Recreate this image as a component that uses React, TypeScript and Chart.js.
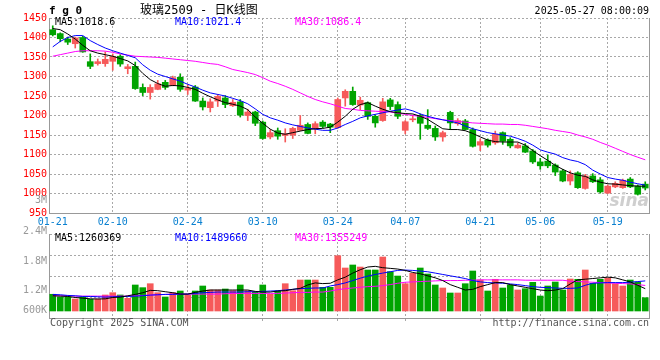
import React, { useEffect, useRef } from 'react';
import { Chart, registerables } from 'chart.js';

Chart.register(...registerables);

// ---------------- data ----------------
const DATES = [
  '01-21', '01-22', '01-23', '01-24', '01-27',
  '02-05', '02-06', '02-07', '02-10', '02-11', '02-12', '02-13', '02-14',
  '02-17', '02-18', '02-19', '02-20', '02-21', '02-24', '02-25', '02-26', '02-27', '02-28',
  '03-03', '03-04', '03-05', '03-06', '03-07', '03-10', '03-11', '03-12', '03-13', '03-14',
  '03-17', '03-18', '03-19', '03-20', '03-21', '03-24', '03-25', '03-26', '03-27', '03-28', '03-31',
  '04-01', '04-02', '04-03', '04-07', '04-08', '04-09', '04-10', '04-11',
  '04-14', '04-15', '04-16', '04-17', '04-18', '04-21', '04-22', '04-23', '04-24', '04-25',
  '04-28', '04-29', '04-30',
  '05-06', '05-07', '05-08', '05-09', '05-12', '05-13', '05-14', '05-15', '05-16',
  '05-19', '05-20', '05-21', '05-22', '05-23', '05-26',
];

const X_TICK_LABELS = ['01-21', '02-10', '02-24', '03-10', '03-24', '04-07', '04-21', '05-06', '05-19'];

const OPEN = [
  1420, 1410, 1396, 1384, 1400, 1338, 1333, 1333, 1339, 1352,
  1320, 1326, 1272, 1259, 1267, 1285, 1277, 1298, 1265, 1273,
  1237, 1220, 1237, 1245, 1225, 1235, 1200, 1209, 1183, 1145,
  1161, 1149, 1150, 1162, 1177, 1166, 1183, 1178, 1169, 1245,
  1262, 1227, 1233, 1198, 1187, 1240, 1228, 1162, 1189, 1200,
  1175, 1167, 1145, 1208, 1179, 1186, 1164, 1124, 1137, 1130,
  1156, 1139, 1117, 1122, 1109, 1081, 1083, 1073, 1058, 1032,
  1053, 1013, 1045, 1035, 1001, 1017, 1015, 1037, 1019, 1024,
];
const HIGH = [
  1430, 1412, 1401, 1401, 1403, 1358, 1345, 1363, 1358, 1356,
  1331, 1337, 1281, 1279, 1290, 1290, 1301, 1307, 1279, 1277,
  1245, 1243, 1254, 1251, 1241, 1241, 1216, 1211, 1186, 1164,
  1168, 1166, 1170, 1200, 1181, 1184, 1187, 1180, 1245, 1266,
  1273, 1247, 1235, 1202, 1244, 1244, 1235, 1187, 1201, 1204,
  1215, 1173, 1160, 1211, 1192, 1190, 1168, 1140, 1140, 1160,
  1158, 1143, 1130, 1128, 1113, 1090, 1099, 1076, 1062, 1058,
  1056, 1049, 1051, 1041, 1022, 1030, 1037, 1041, 1022, 1030,
];
const LOW = [
  1404, 1389, 1382, 1373, 1362, 1320, 1329, 1326, 1316, 1326,
  1307, 1267, 1251, 1242, 1266, 1267, 1276, 1262, 1254, 1236,
  1214, 1209, 1223, 1220, 1223, 1196, 1187, 1174, 1139, 1140,
  1139, 1132, 1141, 1161, 1153, 1153, 1168, 1156, 1167, 1224,
  1226, 1215, 1190, 1170, 1185, 1215, 1192, 1153, 1184, 1139,
  1164, 1136, 1134, 1164, 1175, 1163, 1119, 1110, 1119, 1126,
  1126, 1117, 1116, 1105, 1077, 1062, 1066, 1046, 1030, 1022,
  1013, 1011, 1028, 1001, 1000, 1015, 1013, 1015, 996, 1009,
];
const CLOSE = [
  1407, 1397, 1388, 1399, 1363, 1326, 1338, 1344, 1351, 1332,
  1325, 1269, 1259, 1272, 1281, 1272, 1297, 1267, 1270, 1237,
  1222, 1235, 1249, 1228, 1234, 1201, 1209, 1180, 1141, 1156,
  1147, 1153, 1167, 1175, 1154, 1179, 1172, 1170, 1241, 1262,
  1228, 1239, 1198, 1181, 1235, 1223, 1198, 1184, 1191, 1180,
  1167, 1145, 1156, 1181, 1187, 1164, 1121, 1133, 1124, 1152,
  1134, 1122, 1124, 1106, 1081, 1071, 1071, 1055, 1032, 1049,
  1015, 1045, 1030, 1004, 1019, 1026, 1034, 1017, 998, 1014,
];

const MA5 = [
  1423, 1420, 1409, 1396, 1380, 1366, 1360, 1356, 1352, 1346,
  1340, 1328, 1308, 1292, 1282, 1275, 1277, 1276, 1272, 1267,
  1257, 1248, 1240, 1233, 1229, 1224, 1215, 1196, 1180, 1165,
  1155, 1152, 1156, 1160, 1164, 1166, 1167, 1170, 1183, 1198,
  1216, 1228, 1233, 1224, 1216, 1210, 1207, 1205, 1204, 1198,
  1190, 1178, 1166, 1164, 1164, 1161, 1154, 1145, 1137, 1133,
  1132, 1132, 1132, 1124, 1110, 1097, 1085, 1072, 1062, 1053,
  1047, 1044, 1035, 1029, 1025, 1024, 1022, 1020, 1019, 1018.6,
];
const MA10 = [
  1376, 1390, 1400, 1405, 1405, 1392, 1382, 1373, 1366, 1360,
  1354, 1348, 1330, 1316, 1306, 1300, 1294, 1288, 1280, 1273,
  1265, 1258, 1254, 1250, 1244, 1238, 1230, 1217, 1203, 1194,
  1188, 1181, 1176, 1172, 1168, 1165, 1162, 1162, 1168, 1177,
  1185, 1194, 1199, 1203, 1207, 1211, 1214, 1217, 1212, 1204,
  1198, 1193, 1189, 1185, 1181, 1173, 1166, 1161, 1156, 1153,
  1150, 1147, 1141, 1134, 1124, 1112, 1106, 1101, 1092, 1086,
  1082, 1074, 1060, 1050, 1041, 1037, 1034, 1029, 1025, 1021.4,
];
const MA30 = [
  1352, 1356, 1360, 1364, 1366, 1366, 1366, 1365, 1362, 1358,
  1355, 1352, 1351, 1350, 1349, 1347, 1345, 1343, 1341, 1339,
  1336, 1333, 1331, 1325, 1318, 1314, 1310, 1305, 1297, 1288,
  1282, 1275, 1267, 1258, 1249, 1241, 1235, 1230, 1224, 1218,
  1216, 1213, 1212, 1211, 1210, 1209, 1206, 1203, 1200, 1198,
  1195, 1192, 1189, 1187, 1185, 1183, 1181, 1180, 1179, 1178,
  1178, 1177, 1177, 1175, 1172, 1169, 1166, 1162, 1159, 1156,
  1150, 1145, 1139, 1131, 1124, 1116, 1108, 1100, 1093, 1086.4,
];

const VOLUME = [
  1094000, 1014000, 1020000, 955000, 1014000, 946000, 955000, 1073000, 1141000, 1073000,
  975000, 1369000, 1290000, 1407000, 1141000, 1014000, 1141000, 1191000, 1073000, 1191000,
  1339000, 1221000, 1221000, 1250000, 1200000, 1369000, 1200000, 1160000, 1369000, 1094000,
  1191000, 1407000, 1200000, 1516000, 1516000, 1516000, 1300000, 1300000, 2234000, 1871000,
  1960000, 1900000, 1812000, 1812000, 2196000, 1762000, 1634000, 1407000, 1714000, 1871000,
  1694000, 1369000, 1280000, 1132000, 1132000, 1407000, 1782000, 1516000, 1191000, 1537000,
  1280000, 1369000, 1221000, 1260000, 1448000, 1043000, 1339000, 1457000, 1221000, 1546000,
  1537000, 1812000, 1418000, 1537000, 1575000, 1407000, 1339000, 1516000, 1457000, 993000,
];
const VOL_MA5 = [
  1050000, 1040000, 1030000, 1000000, 980000, 960000, 955000, 960000, 1000000, 1010000,
  1050000, 1090000, 1140000, 1210000, 1200000, 1170000, 1140000, 1100000, 1100000, 1150000,
  1190000, 1220000, 1220000, 1220000, 1220000, 1220000, 1220000, 1180000, 1160000, 1160000,
  1190000, 1200000, 1240000, 1270000, 1370000, 1430000, 1410000, 1420000, 1520000, 1600000,
  1720000, 1820000, 1900000, 1920000, 1880000, 1860000, 1840000, 1800000, 1740000, 1700000,
  1640000, 1580000, 1500000, 1380000, 1300000, 1220000, 1240000, 1320000, 1380000, 1440000,
  1440000, 1380000, 1340000, 1300000, 1260000, 1220000, 1200000, 1220000, 1260000, 1400000,
  1520000, 1540000, 1560000, 1580000, 1600000, 1580000, 1520000, 1460000, 1360000, 1260369,
];
const VOL_MA10 = [
  1090000, 1080000, 1060000, 1050000, 1030000, 1030000, 1020000, 1010000, 1020000, 1030000,
  1030000, 1040000, 1050000, 1070000, 1080000, 1090000, 1090000, 1100000, 1100000, 1120000,
  1140000, 1150000, 1160000, 1160000, 1160000, 1160000, 1170000, 1170000, 1180000, 1190000,
  1200000, 1220000, 1240000, 1260000, 1270000, 1280000, 1280000, 1340000, 1380000, 1430000,
  1500000, 1570000, 1630000, 1680000, 1720000, 1760000, 1800000, 1810000, 1800000, 1780000,
  1760000, 1720000, 1680000, 1640000, 1600000, 1560000, 1500000, 1460000, 1440000, 1430000,
  1420000, 1400000, 1380000, 1350000, 1320000, 1300000, 1290000, 1280000, 1270000, 1270000,
  1280000, 1360000, 1420000, 1430000, 1440000, 1440000, 1440000, 1450000, 1470000, 1489660,
];
const VOL_MA30 = [
  1050000, 1050000, 1050000, 1040000, 1040000, 1040000, 1040000, 1040000, 1040000, 1040000,
  1040000, 1050000, 1060000, 1070000, 1080000, 1090000, 1100000, 1100000, 1100000, 1100000,
  1100000, 1100000, 1100000, 1110000, 1120000, 1120000, 1120000, 1120000, 1120000, 1120000,
  1120000, 1130000, 1140000, 1150000, 1150000, 1160000, 1160000, 1190000, 1230000, 1260000,
  1280000, 1300000, 1320000, 1330000, 1350000, 1380000, 1420000, 1450000, 1460000, 1470000,
  1480000, 1490000, 1500000, 1500000, 1500000, 1510000, 1510000, 1520000, 1520000, 1520000,
  1520000, 1520000, 1520000, 1510000, 1510000, 1510000, 1510000, 1510000, 1510000, 1480000,
  1470000, 1460000, 1450000, 1440000, 1430000, 1420000, 1410000, 1400000, 1380000, 1355249,
];

const PRICE_MIN = 950;
const PRICE_MAX = 1450;
const PRICE_STEP = 50;
const VOL_BASE = 600000;
const VOL_MIN = 393000;
const VOL_MAX = 2876000;
const VOL_AXIS_LABELS = ['2.4M', '1.8M', '1.2M', '600K'];

const TITLE_CODE = 'f g 0';
const TITLE = '玻璃2509 - 日K线图';
const TIMESTAMP = '2025-05-27 08:00:09';
const COPYRIGHT = 'Copyright 2025 SINA.COM';
const SITE_URL = 'http://finance.sina.com.cn';
const WATERMARK = 'sina';
const STRAY_LABEL = '3M';

// ---------------- style ----------------
const MONO = '"DejaVu Sans Mono", "Liberation Mono", monospace';
const CJK = '"DejaVu Sans Mono", "Noto Sans CJK SC", sans-serif';
const UP = '#f65a5a';
const DOWN = '#00a400';
const GRID = '#a8a8a8';
const BORDER = '#999999';
const C_MA5 = '#000000';
const C_MA10 = '#0000ff';
const C_MA30 = '#ff00ff';
const X_LABEL = '#0a80d0';
const TICK_SET = new Set(X_TICK_LABELS);

const candleColor = (i: number) => (CLOSE[i] >= OPEN[i] ? UP : DOWN);
const gridColorX = (c: any) => (c.index > 0 && TICK_SET.has(DATES[c.index]) ? GRID : 'rgba(0,0,0,0)');

function drawRightBorder(chart: any) {
  const { ctx, chartArea: ca } = chart;
  const x = Math.round(ca.right) + 0.5;
  ctx.save();
  ctx.strokeStyle = BORDER;
  ctx.lineWidth = 1;
  ctx.beginPath();
  ctx.moveTo(x, Math.round(ca.top));
  ctx.lineTo(x, Math.round(ca.bottom) + 1);
  ctx.stroke();
  ctx.restore();
}

const lineDs = (label: string, data: number[], color: string) => ({
  type: 'line' as const,
  label,
  data,
  borderColor: color,
  backgroundColor: color,
  borderWidth: 1,
  pointRadius: 0,
  tension: 0,
  fill: false,
  order: 0,
});

export default function App() {
  const refA = useRef<HTMLCanvasElement>(null);
  const refB = useRef<HTMLCanvasElement>(null);

  useEffect(() => {
    document.body.style.margin = '0';
    document.body.style.background = '#ffffff';

    const decorA = {
      id: 'decorA',
      beforeDatasetsDraw(chart: any) {
        const { ctx, chartArea: ca } = chart;
        ctx.save();
        ctx.font = `italic bold 17px "DejaVu Sans", sans-serif`;
        ctx.fillStyle = '#cfcfcf';
        ctx.textAlign = 'right';
        ctx.textBaseline = 'alphabetic';
        ctx.fillText(WATERMARK, ca.right, ca.bottom - 7);
        ctx.restore();
      },
      afterDraw(chart: any) {
        const { ctx, chartArea: ca } = chart;
        drawRightBorder(chart);
        ctx.save();
        ctx.textBaseline = 'middle';
        ctx.textAlign = 'left';
        ctx.fillStyle = '#000';
        ctx.font = `bold 11px ${MONO}`;
        ctx.fillText(TITLE_CODE, 49, 11);
        ctx.font = `12px ${CJK}`;
        ctx.fillText(TITLE, 140, 11);
        ctx.font = `10px ${MONO}`;
        ctx.textAlign = 'right';
        ctx.fillText(TIMESTAMP, ca.right, 11);
        ctx.textAlign = 'left';
        const ly = ca.top + 4.5;
        ctx.fillStyle = C_MA5;
        ctx.fillText(`MA5:${MA5[MA5.length - 1]}`, ca.left + 6, ly);
        ctx.fillStyle = C_MA10;
        ctx.fillText(`MA10:${MA10[MA10.length - 1]}`, ca.left + 126, ly);
        ctx.fillStyle = C_MA30;
        ctx.fillText(`MA30:${MA30[MA30.length - 1]}`, ca.left + 246, ly);
        ctx.fillStyle = '#999';
        ctx.textAlign = 'right';
        ctx.fillText(STRAY_LABEL, ca.left - 2, ca.bottom - 13);
        ctx.restore();
      },
    };

    const decorB = {
      id: 'decorB',
      afterDraw(chart: any) {
        const { ctx, chartArea: ca } = chart;
        drawRightBorder(chart);
        ctx.save();
        ctx.textBaseline = 'middle';
        ctx.font = `10px ${MONO}`;
        ctx.textAlign = 'left';
        const ly = ca.top + 4;
        ctx.fillStyle = C_MA5;
        ctx.fillText(`MA5:${VOL_MA5[VOL_MA5.length - 1]}`, ca.left + 6, ly);
        ctx.fillStyle = C_MA10;
        ctx.fillText(`MA10:${VOL_MA10[VOL_MA10.length - 1]}`, ca.left + 126, ly);
        ctx.fillStyle = C_MA30;
        ctx.fillText(`MA30:${VOL_MA30[VOL_MA30.length - 1]}`, ca.left + 246, ly);
        // volume axis labels
        ctx.fillStyle = '#999';
        ctx.textAlign = 'right';
        const offs = [-3, 27, 56.5, 76.5];
        VOL_AXIS_LABELS.forEach((t, k) => ctx.fillText(t, ca.left - 2, ca.top + offs[k]));
        // footer
        ctx.fillStyle = '#555';
        ctx.textAlign = 'left';
        ctx.fillText(COPYRIGHT, ca.left + 1, ca.bottom + 5);
        ctx.textAlign = 'right';
        ctx.fillText(SITE_URL, ca.right, ca.bottom + 5);
        ctx.restore();
      },
    };

    const colors = DATES.map((_, i) => candleColor(i));

    const chartA = new Chart(refA.current as HTMLCanvasElement, {
      type: 'bar',
      data: {
        labels: DATES,
        datasets: [
          {
            type: 'bar',
            label: 'wick',
            data: LOW.map((l, i) => [l, HIGH[i]]) as any,
            backgroundColor: colors,
            barThickness: 1,
            grouped: false,
            order: 3,
          },
          {
            type: 'bar',
            label: 'body',
            data: OPEN.map((o, i) => [Math.min(o, CLOSE[i]), Math.max(o, CLOSE[i])]) as any,
            backgroundColor: colors,
            barThickness: 6,
            minBarLength: 1,
            grouped: false,
            order: 2,
          },
          lineDs('MA5', MA5, C_MA5),
          lineDs('MA10', MA10, C_MA10),
          lineDs('MA30', MA30, C_MA30),
        ] as any,
      },
      options: {
        responsive: false,
        animation: false,
        devicePixelRatio: 1,
        layout: { padding: { top: 18, right: 11, left: 0, bottom: 0 } },
        plugins: { legend: { display: false }, tooltip: { enabled: false } },
        scales: {
          x: {
            type: 'category',
            offset: true,
            grid: { offset: false, color: gridColorX, lineWidth: 1, drawTicks: false },
            border: { color: BORDER, dash: [2, 2] },
            ticks: {
              autoSkip: false,
              maxRotation: 0,
              padding: 3,
              color: X_LABEL,
              font: { family: MONO, size: 10 },
              callback: (_v: any, i: number) => (TICK_SET.has(DATES[i]) ? DATES[i] : ''),
            },
            afterFit: (s: any) => { s.height = 19; },
          },
          y: {
            min: PRICE_MIN,
            max: PRICE_MAX,
            grid: { color: GRID, lineWidth: 1, drawTicks: false },
            border: { color: BORDER, dash: [2, 2] },
            ticks: {
              stepSize: PRICE_STEP,
              padding: 2,
              color: '#ff0000',
              font: { family: MONO, size: 10 },
              callback: (v: any) => String(v),
            },
            afterFit: (s: any) => { s.width = 49; },
          },
        },
      } as any,
      plugins: [decorA],
    });

    const chartB = new Chart(refB.current as HTMLCanvasElement, {
      type: 'bar',
      data: {
        labels: DATES,
        datasets: [
          {
            type: 'bar',
            label: 'volume',
            data: VOLUME.map((v) => [VOL_BASE, v]) as any,
            backgroundColor: colors,
            barThickness: 6,
            grouped: false,
            order: 2,
          },
          lineDs('VMA5', VOL_MA5, C_MA5),
          lineDs('VMA10', VOL_MA10, C_MA10),
          lineDs('VMA30', VOL_MA30, C_MA30),
        ] as any,
      },
      options: {
        responsive: false,
        animation: false,
        devicePixelRatio: 1,
        layout: { padding: { top: 10, right: 11, left: 0, bottom: 0 } },
        plugins: { legend: { display: false }, tooltip: { enabled: false } },
        scales: {
          x: {
            type: 'category',
            offset: true,
            grid: {
              offset: false,
              color: gridColorX,
              lineWidth: 1,
              drawTicks: true,
              tickLength: 4,
              tickColor: gridColorX,
              tickBorderDash: [2, 2],
            },
            border: { color: BORDER, dash: [2, 2] },
            ticks: { display: false, autoSkip: false },
            afterFit: (s: any) => { s.height = 42; },
          },
          y: {
            min: VOL_MIN,
            max: VOL_MAX,
            grid: { color: GRID, lineWidth: 1, drawTicks: false },
            border: { color: BORDER, dash: [2, 2] },
            ticks: { display: false },
            afterBuildTicks: (s: any) => {
              s.ticks = [0, 1, 2, 3, 4].map((k) => ({ value: VOL_MIN + (k * (VOL_MAX - VOL_MIN)) / 4 }));
            },
            afterFit: (s: any) => { s.width = 49; },
          },
        },
      } as any,
      plugins: [decorB],
    });

    return () => {
      chartA.destroy();
      chartB.destroy();
    };
  }, []);

  return (
    <div style={{ position: 'relative', width: 660, height: 360, background: '#fff' }}>
      <canvas ref={refA} width={660} height={232} style={{ position: 'absolute', left: 0, top: 0 }} />
      <canvas ref={refB} width={660} height={136} style={{ position: 'absolute', left: 0, top: 224 }} />
    </div>
  );
}
